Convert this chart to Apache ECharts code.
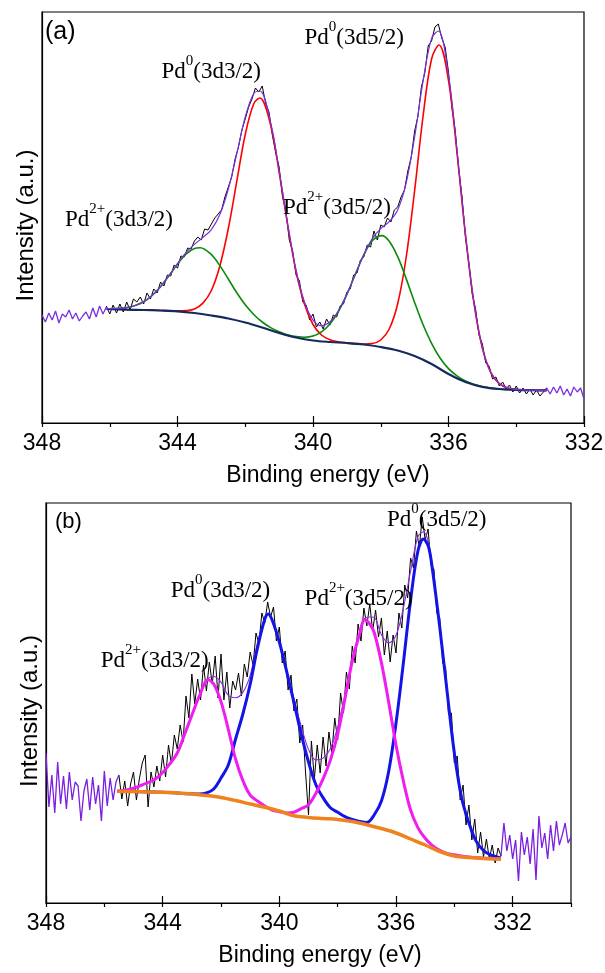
<!DOCTYPE html>
<html><head><meta charset="utf-8">
<script src="https://cdn.jsdelivr.net/npm/echarts@6.0.0/dist/echarts.min.js"></script>
<style>html,body{margin:0;padding:0;background:#fff}#c{width:605px;height:973px}</style>
</head><body><div id="c"></div>
<script>
// ---------- tick labels ----------
const xTickLabels = [348, 344, 340, 336, 332];

// ---------- panel (a) : [binding energy eV, intensity a.u.] ----------
const aRaw = [[346.1,117],[346.0,109],[345.9,118],[345.8,110],[345.7,119],[345.6,111],[345.5,121],[345.4,113],[345.3,124],[345.2,121],[345.1,126],[345.0,119],[344.9,130],[344.8,124],[344.7,134],[344.6,130],[344.5,141],[344.4,137],[344.3,148],[344.2,147],[344.1,158],[344.0,155],[343.9,167],[343.8,166],[343.7,175],[343.6,174],[343.5,182],[343.4,186],[343.3,183],[343.2,194],[343.1,193],[343.0,199],[342.9,205],[342.8,209],[342.7,213],[342.6,226],[342.5,236],[342.4,246],[342.3,264],[342.2,276],[342.1,293],[342.0,304],[341.9,316],[341.8,324],[341.7,335],[341.6,331],[341.5,337],[341.4,320],[341.3,311],[341.2,288],[341.1,270],[341.0,256],[340.9,226],[340.8,212],[340.7,183],[340.6,172],[340.5,148],[340.4,142],[340.3,121],[340.2,118],[340.1,103],[340.0,109],[339.9,96],[339.8,101],[339.7,94],[339.6,104],[339.5,98],[339.4,108],[339.3,106],[339.2,117],[339.1,119],[339.0,131],[338.9,134],[338.8,148],[338.7,150],[338.6,163],[338.5,166],[338.4,178],[338.3,176],[338.2,192],[338.1,183],[338.0,198],[337.9,196],[337.8,205],[337.7,201],[337.6,213],[337.5,216],[337.4,226],[337.3,233],[337.2,252],[337.1,266],[337.0,292],[336.9,307],[336.8,336],[336.7,350],[336.6,377],[336.5,382],[336.4,396],[336.3,399],[336.2,385],[336.1,376],[336.0,351],[335.9,316],[335.8,292],[335.7,254],[335.6,226],[335.5,186],[335.4,160],[335.3,129],[335.2,114],[335.1,88],[335.0,79],[334.9,60],[334.8,57],[334.7,44],[334.6,46],[334.5,37],[334.4,41],[334.3,34],[334.2,38],[334.1,31],[334.0,37],[333.9,30],[333.8,35],[333.7,29],[333.6,34],[333.5,28],[333.4,33],[333.3,27],[333.2,31]];
const aEdgeLeft = [[348.0,108],[347.9,101],[347.8,110],[347.7,103],[347.6,112],[347.5,100],[347.4,109],[347.3,106],[347.2,113],[347.1,104],[347.0,110],[346.9,102],[346.8,107],[346.7,111],[346.6,104],[346.5,115],[346.4,106],[346.3,117],[346.2,109],[346.1,116]];
const aEdgeRight = [[333.2,31],[333.1,35],[333.0,29],[332.9,36],[332.8,30],[332.7,37],[332.6,28],[332.5,34],[332.4,27],[332.3,36],[332.2,31],[332.1,35],[332.0,24]];
const aBackground = [[346.1,114],[345.5,113.4],[345,113],[344.5,112.5],[344,111.7],[343.5,110],[343,107.5],[342.5,104.5],[342,100.5],[341.5,95.5],[341,90],[340.5,85.5],[340,82.5],[339.5,81],[339,80],[338.5,78.5],[338,76],[337.5,72.5],[337,67],[336.5,59],[336,49],[335.5,41],[335,36.2],[334.5,34],[334,33.2],[333.5,32.8],[333.1,32.6]];
const aPd0 = [[345.5,113.3],[345,113],[344.5,112.5],[344,112.1],[343.75,112.4],[343.5,114],[343.25,119.9],[343,132.5],[342.75,157],[342.5,194.5],[342.25,241.6],[342,288.5],[341.75,319.2],[341.57,325],[341.25,297.8],[341,251],[340.75,198.6],[340.5,151.5],[340.25,118.8],[340,98.5],[339.75,88],[339.5,83.2],[339.25,81.2],[339,80.2],[338.75,79.4],[338.5,79],[338.25,79.5],[338,83],[337.75,94],[337.5,119.3],[337.25,165.5],[337,232.5],[336.75,307],[336.5,364],[336.28,378],[336,342.5],[335.75,270.4],[335.5,188.2],[335.25,120.3],[335,74.9],[334.75,50.4],[334.5,39.3],[334.25,35],[334,33.6],[333.5,32.8],[333.1,32.6]];
const aPd2 = [[346.0,114.3],[345.75,114.6],[345.5,115.4],[345.25,117.5],[345,121.2],[344.75,127.5],[344.5,136.3],[344.25,147.3],[344,159],[343.75,168.9],[343.5,174.6],[343.33,175.3],[343,168.4],[342.75,157.4],[342.5,144],[342.25,130.2],[342,118.2],[341.75,108.5],[341.5,101],[341.25,95.4],[341,91.2],[340.75,88.1],[340.5,86.5],[340.25,85.7],[340,86.9],[339.75,91.1],[339.5,99],[339.25,111.5],[339,128.6],[338.75,148.7],[338.5,168],[338.25,182.3],[337.97,187.4],[337.75,181.8],[337.5,166.3],[337.25,144.4],[337,120.5],[336.75,98.2],[336.5,79.6],[336.25,65],[336,54.4],[335.75,47.2],[335.5,42],[335.25,38.7],[335,36.3],[334.5,34],[334,33.2],[333.5,32.8]];
const aEnvelope = [[346.1,114.4],[345.75,114.6],[345.5,115.4],[345.25,117.5],[345,121.2],[344.75,127.5],[344.5,136.4],[344.25,147.5],[344,159.4],[343.75,170.3],[343.5,178.6],[343.25,185.6],[343,193.4],[342.75,208.4],[342.5,234],[342.25,269.2],[342,306.2],[341.75,329.5],[341.57,332],[341.25,300.4],[341,252.2],[340.75,199.1],[340.5,152.5],[340.25,120.7],[340,102.9],[339.75,97.4],[339.5,101.2],[339.25,112.2],[339,128.8],[338.75,148.9],[338.5,168.5],[338.25,184.4],[338,194.4],[337.75,201.4],[337.5,213.1],[337.25,239.9],[337,286],[336.75,342],[336.5,384.6],[336.3,392],[336,347.9],[335.75,272.8],[335.5,189.2],[335.25,120.6],[335,75],[334.75,50.4],[334.5,39.3],[334.25,35],[334,33.6],[333.5,32.8],[333.1,32.6]];

// ---------- panel (b) ----------
const bRaw = [[345.5,128],[345.4,104],[345.3,122],[345.2,97],[345.1,119],[345.0,131],[344.9,103],[344.8,124],[344.7,140],[344.6,148],[344.5,96],[344.4,131],[344.3,116],[344.2,137],[344.1,122],[344.0,148],[343.9,126],[343.8,158],[343.7,139],[343.6,168],[343.5,154],[343.4,178],[343.3,161],[343.2,207],[343.1,185],[343.0,229],[342.9,199],[342.8,224],[342.7,203],[342.6,238],[342.5,212],[342.4,241],[342.3,219],[342.2,247],[342.1,205],[342.0,249],[341.9,203],[341.8,231],[341.7,195],[341.6,222],[341.5,213],[341.4,230],[341.3,207],[341.2,239],[341.1,226],[341.0,251],[340.9,238],[340.8,270],[340.7,259],[340.6,290],[340.5,280],[340.4,301],[340.3,286],[340.2,296],[340.1,262],[340.0,276],[339.9,240],[339.8,252],[339.7,213],[339.6,228],[339.5,192],[339.4,204],[339.3,160],[339.2,178],[339.1,130],[339.0,88],[338.9,162],[338.8,124],[338.7,158],[338.6,130],[338.5,166],[338.4,137],[338.3,171],[338.2,150],[338.1,185],[338.0,163],[337.9,210],[337.8,190],[337.7,231],[337.6,214],[337.5,257],[337.4,240],[337.3,279],[337.2,262],[337.1,295],[337.0,277],[336.9,299],[336.8,272],[336.7,293],[336.6,266],[336.5,285],[336.4,248],[336.3,272],[336.2,241],[336.1,268],[336.0,250],[335.9,290],[335.8,275],[335.7,318],[335.6,305],[335.5,345],[335.4,335],[335.3,372],[335.2,356],[335.1,386],[335.0,363],[334.9,374],[334.8,338],[334.7,334],[334.6,290],[334.5,285],[334.4,240],[334.3,236],[334.2,189],[334.1,190],[334.0,140],[333.9,147],[333.8,103],[333.7,118],[333.6,78],[333.5,98],[333.4,63],[333.3,84],[333.2,50],[333.1,71],[333.0,46],[332.9,64],[332.8,44],[332.7,58],[332.6,40],[332.5,55],[332.4,47]];
const bEdgeLeft = [[348.0,150],[347.9,96],[347.8,128],[347.7,90],[347.6,141],[347.5,99],[347.4,127],[347.3,94],[347.2,131],[347.1,103],[347.0,121],[346.9,117],[346.8,82],[346.7,112],[346.6,124],[346.5,93],[346.4,126],[346.3,99],[346.2,118],[346.1,82],[346.0,132],[345.9,97],[345.8,125],[345.7,103],[345.6,121],[345.5,128]];
const bEdgeRight = [[332.4,47],[332.3,80],[332.2,52],[332.1,68],[332.0,44],[331.9,63],[331.8,22],[331.7,71],[331.6,48],[331.5,66],[331.4,39],[331.3,74],[331.2,23],[331.1,87],[331.0,55],[330.9,70],[330.8,44],[330.7,78],[330.6,52],[330.5,82],[330.4,58],[330.3,68],[330.2,80],[330.1,60],[330.0,66]];
const bBackground = [[345.55,111.7],[345,111.4],[344.5,111.1],[344,110.7],[343.5,110],[343,109],[342.5,107.5],[342,105.5],[341.5,102.5],[341,99],[340.5,95.8],[340,92],[339.5,87.2],[339,85.6],[338.5,84.5],[338,83.5],[337.5,81.5],[337,78.3],[336.5,74.5],[336,70],[335.5,64],[335,58],[334.5,51.5],[334,47],[333.5,45.5],[333,44.6],[332.4,44]];
const bPd0 = [[345.55,111.7],[344,110.7],[343,109.2],[342.75,109],[342.5,110],[342.25,114],[342,125],[341.75,138],[341.5,164],[341.25,189],[341,218.8],[340.75,255],[340.5,283.7],[340.38,289],[340.25,283.3],[340,261],[339.75,231.7],[339.5,200.7],[339.25,168.8],[339,141],[338.75,118.5],[338.5,105.2],[338.25,95.3],[338,90.8],[337.75,86.4],[337.5,83.5],[337.25,81.6],[337,80.5],[336.75,88],[336.5,102],[336.25,131.8],[336,179.7],[335.75,239.4],[335.5,302.8],[335.25,351.7],[335.06,364],[334.89,356.7],[334.75,333.3],[334.5,275.8],[334.25,211.8],[334,150],[333.75,105],[333.5,80],[333.25,61.6],[333,52.5],[332.75,48],[332.4,45]];
const bPd2 = [[345.55,111.7],[345.25,113],[345,114.8],[344.75,117.5],[344.5,120.5],[344.25,124],[344,130.5],[343.75,139.3],[343.5,150],[343.25,168.5],[343,187.7],[342.75,206.3],[342.44,223.3],[342.25,219],[342,201.4],[341.75,173.6],[341.5,143.8],[341.25,122.4],[341,107.9],[340.75,102],[340.5,97],[340.25,92.9],[340,91.3],[339.75,90.1],[339.5,90.8],[339.25,94.4],[339,98.2],[338.75,109.6],[338.5,124.2],[338.25,142.9],[338,168.9],[337.75,204.4],[337.5,241.9],[337.25,268.8],[337.07,283.3],[336.9,279],[336.75,270.7],[336.5,240.4],[336.25,200.5],[336,158.1],[335.75,122.3],[335.5,93],[335.25,75.4],[335,64.7],[334.75,57.4],[334.5,52.6],[334.25,49.5],[334,48.2],[333.5,46],[333,45],[332.4,44]];
const bEnvelope = [[345.55,112],[345.25,113],[345,114.8],[344.75,117.5],[344.5,120.5],[344.25,124],[344,130.5],[343.75,139.3],[343.5,150],[343.25,168.6],[343,187.9],[342.75,207],[342.5,222.8],[342.25,226.5],[342,220.9],[341.75,207.6],[341.5,205.3],[341.25,210.6],[341,227.7],[340.75,259.6],[340.5,284.9],[340.38,289.5],[340.25,282.2],[340,260.3],[339.75,232.3],[339.5,204.3],[339.25,176.8],[339,153.6],[338.75,143.1],[338.5,144.9],[338.25,154.2],[338,176.2],[337.75,208.1],[337.5,243.9],[337.25,270.2],[337.07,284.6],[336.9,286],[336.75,285.7],[336.5,268.3],[336.25,260.1],[336,267.8],[335.75,294.7],[335.5,331.8],[335.25,366.1],[335.06,371.3],[334.89,361.2],[334.75,335.9],[334.5,276.9],[334.25,212.3],[334,151.2],[333.75,105.8],[333.5,80.5],[333.25,62.1],[333,52.9],[332.75,48.3],[332.4,45]];

// ---------- texts ----------
const panelTags = ['(a)', '(b)'];
const peakNames = [['Pd', '0', '(3d5/2)'], ['Pd', '0', '(3d3/2)'], ['Pd', '2+', '(3d5/2)'], ['Pd', '2+', '(3d3/2)']];
const xName = 'Binding energy (eV)';
const yName = 'Intensity (a.u.)';

// ---------- build ----------
const SANS = 'Liberation Sans, Arial, sans-serif';
const SERIF = 'Liberation Serif, Times New Roman, serif';

function mainX(grid, min, max) {
  return {
    gridIndex: grid, type: 'value', min: min, max: max, inverse: true, interval: 2,
    axisLine: { onZero: false, lineStyle: { color: '#000', width: 1.2 } },
    axisTick: { show: true, length: 4, lineStyle: { color: '#000', width: 1.2 } },
    axisLabel: { show: true, margin: 9, color: '#000', fontSize: 23, fontFamily: SANS,
      showMinLabel: true, showMaxLabel: true,
      formatter: v => (xTickLabels.indexOf(v) >= 0 ? String(v) : '') },
    splitLine: { show: false },
    name: xName, nameLocation: 'middle', nameGap: 41,
    nameTextStyle: { color: '#000', fontSize: 23, fontFamily: SANS, padding: [0, 0, 0, grid === 0 ? 30 : 23] }
  };
}
function tickX(grid, min, max) {
  return {
    gridIndex: grid, type: 'value', min: min, max: max, inverse: true,
    axisLine: { show: false },
    axisTick: { show: true, length: 7, customValues: xTickLabels, lineStyle: { color: '#000', width: 1.2 } },
    axisLabel: { show: false }, splitLine: { show: false }
  };
}
function yAx(grid, max) {
  return {
    gridIndex: grid, type: 'value', min: 0, max: max,
    axisLine: { show: true, lineStyle: { color: '#000', width: 1.2 } },
    axisTick: { show: false }, axisLabel: { show: false }, splitLine: { show: false },
    name: yName, nameLocation: 'middle', nameGap: 4,
    nameTextStyle: { color: '#000', fontSize: 24, fontFamily: SANS, padding: [0, 16, 0, 0] }
  };
}
function line(data, xi, yi, color, width, smooth, z) {
  return { type: 'line', xAxisIndex: xi, yAxisIndex: yi, data: data, showSymbol: false, symbol: 'none',
    smooth: smooth ? 0.35 : false, lineStyle: { color: color, width: width }, z: z, silent: true, animation: false };
}
const rich = {
  m: { fontFamily: SERIF, fontSize: 23, lineHeight: 23, verticalAlign: 'bottom', fill: '#000' },
  s: { fontFamily: SERIF, fontSize: 15, lineHeight: 15, padding: [0, 0, 15, 0], verticalAlign: 'bottom', fill: '#000' }
};
function peak(idx, x, baseline) {
  const p = peakNames[idx];
  return { type: 'text', silent: true, z: 100,
    style: { x: x, y: baseline + 3.7, text: '{m|' + p[0] + '}{s|' + p[1] + '}{m|' + p[2] + '}', rich: rich,
      fill: '#000', align: 'left', verticalAlign: 'bottom', textAlign: 'left', textVerticalAlign: 'bottom' } };
}
function tag(idx, x, y, size) {
  return { type: 'text', silent: true, z: 100,
    style: { x: x, y: y, text: panelTags[idx], fill: '#000', font: size + 'px ' + SANS,
      align: 'left', verticalAlign: 'middle', textAlign: 'left', textVerticalAlign: 'middle' } };
}

const option = {
  backgroundColor: '#fff',
  animation: false,
  grid: [
    { left: 42, top: 12, width: 542, height: 411, show: true, borderColor: '#000', borderWidth: 1.2, containLabel: false, outerBoundsMode: 'none' },
    { left: 46, top: 503, width: 525, height: 400, show: true, borderColor: '#000', borderWidth: 1.2, containLabel: false, outerBoundsMode: 'none' }
  ],
  xAxis: [mainX(0, 332, 348), tickX(0, 332, 348), mainX(1, 330, 348), tickX(1, 330, 348)],
  yAxis: [yAx(0, 411), yAx(1, 400)],
  series: [
    // panel (a)
    line(aRaw, 0, 0, '#000', 1, false, 2),
    line(aEdgeLeft, 0, 0, '#7a2fe0', 1.3, false, 3),
    line(aEdgeRight, 0, 0, '#7a2fe0', 1.3, false, 3),
    line(aPd0, 0, 0, '#ff0000', 1.6, true, 4),
    line(aPd2, 0, 0, '#0a8a0a', 1.6, true, 4),
    line(aBackground, 0, 0, '#142a5c', 2.2, true, 5),
    line(aEnvelope, 0, 0, '#7a2fe0', 1.2, true, 6),
    // panel (b)
    line(bRaw, 2, 1, '#000', 1, false, 2),
    line(bEdgeLeft, 2, 1, '#7a1fe0', 1.3, false, 3),
    line(bEdgeRight, 2, 1, '#7a1fe0', 1.3, false, 3),
    line(bEnvelope, 2, 1, '#8a2be2', 1.1, true, 4),
    line(bPd0, 2, 1, '#1414e6', 3, true, 5),
    line(bPd2, 2, 1, '#f01cf0', 3, true, 5),
    line(bBackground, 2, 1, '#f0821e', 3.5, true, 6)
  ],
  graphic: [
    tag(0, 45, 32, 25),
    tag(1, 55, 522, 22),
    peak(0, 304.5, 46), peak(1, 161.5, 79.5), peak(2, 283, 216), peak(3, 65, 227.6),
    peak(0, 387, 527.5), peak(1, 170.7, 599), peak(2, 304.6, 606.5), peak(3, 100.8, 669)
  ]
};

const chart = echarts.init(document.getElementById('c'), null, { renderer: 'canvas', width: 605, height: 973 });
chart.setOption(option);
</script></body></html>
